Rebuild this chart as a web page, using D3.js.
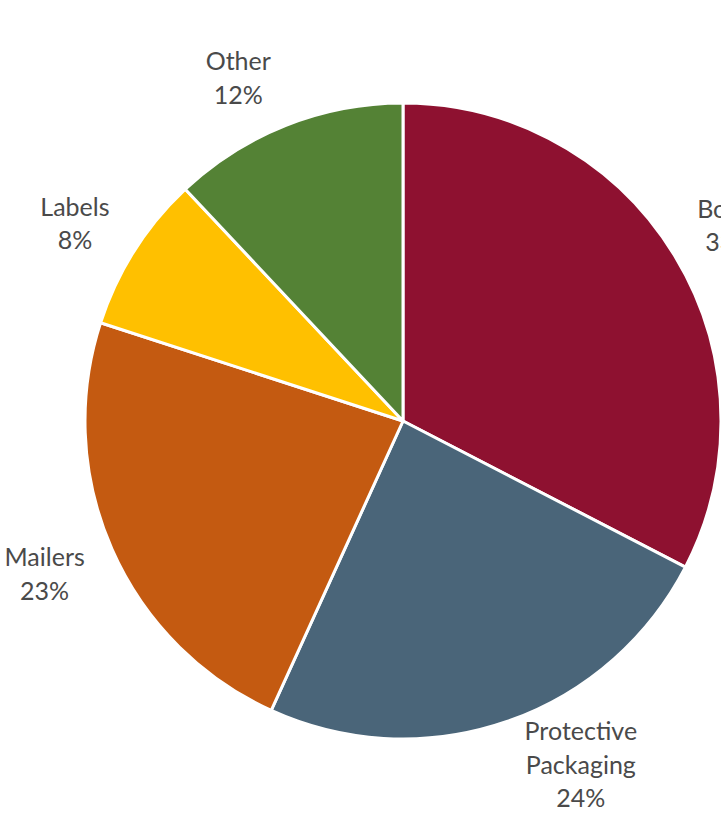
<!DOCTYPE html>
<html>
<head>
<meta charset="utf-8">
<script src="https://cdn.jsdelivr.net/npm/d3@7"></script>
<style>
  html, body { margin: 0; padding: 0; background: #fff; overflow: hidden; }
  svg { display: block; }
</style>
</head>
<body>
<figure id="pie" style="margin:0"></figure>
<script>
// data
const categories = ["Boxes", "Protective Packaging", "Mailers", "Labels", "Other"];
const shares = [32.6, 24.2, 23.2, 8.0, 12.0];
const colors = ["#8e1130", "#4a6579", "#c45a11", "#ffc000", "#548235"];

const width = 721, height = 820;
const cx = 403, cy = 421, radius = 318;
const labelRadius = 385;

// small manual nudges, like dragging a label in the spreadsheet
const labelNudge = {
  "Boxes": [-2, 5],
  "Protective Packaging": [52, -20],
  "Other": [-23, 15],
  "Labels": [-3, 9],
  "Mailers": [-6, -2]
};

const rows = categories.map((c, i) => ({name: c, value: shares[i], color: colors[i]}));

const svg = d3.select("figure#pie")
  .append("svg")
  .attr("width", width)
  .attr("height", height);

const g = svg.append("g")
  .attr("transform", "translate(" + cx + "," + cy + ")");

const pie = d3.pie()
  .value(d => d.value)
  .sort(null);

const arc = d3.arc().innerRadius(0).outerRadius(radius);
const labelArc = d3.arc().innerRadius(labelRadius).outerRadius(labelRadius);

const arcs = pie(rows);

g.selectAll("path.slice")
  .data(arcs)
  .enter()
  .append("path")
  .attr("class", "slice")
  .attr("d", arc)
  .attr("fill", d => d.data.color)
  .attr("stroke", "#fff")
  .attr("stroke-width", 3)
  .attr("stroke-linejoin", "round");

const pct = d3.format(".0f");
const lineH = 33.5;

g.selectAll("text.lbl")
  .data(arcs)
  .enter()
  .append("text")
  .attr("class", "lbl")
  .attr("text-anchor", "middle")
  .style("font-family", "Lato, 'Open Sans', sans-serif")
  .style("font-size", "25px")
  .style("fill", "#4a4a4a")
  .each(function (d) {
    const [x, y] = labelArc.centroid(d);
    const nudge = labelNudge[d.data.name] || [0, 0];
    const words = d.data.name === "Protective Packaging" ? ["Protective", "Packaging"] : [d.data.name];
    const lines = words.concat([pct(d.data.value) + "%"]);
    const top = y + nudge[1] - (lines.length - 1) * lineH / 2;
    const t = d3.select(this);
    lines.forEach((ln, i) => {
      t.append("tspan")
        .attr("x", x + nudge[0])
        .attr("y", top + i * lineH)
        .attr("dy", "0.35em")
        .text(ln);
    });
  });
</script>
</body>
</html>
